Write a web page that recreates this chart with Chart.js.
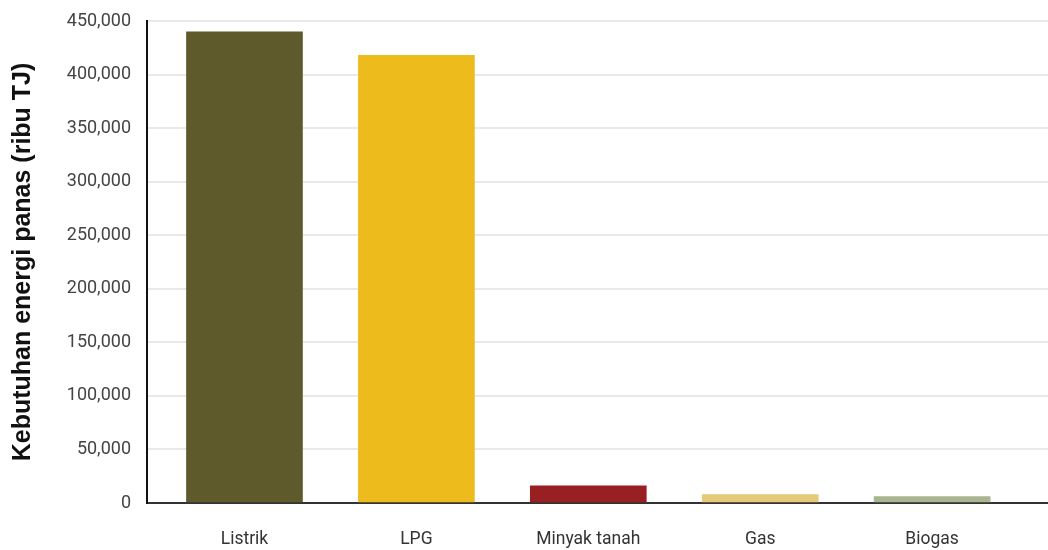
<!DOCTYPE html>
<html>
<head>
<meta charset="utf-8">
<script src="https://cdn.jsdelivr.net/npm/chart.js@4.4.0/dist/chart.umd.min.js"></script>
<style>
  html, body { margin: 0; padding: 0; background: #fff; }
  #wrap { width: 1048px; height: 550px; }
</style>
</head>
<body>
<div id="wrap"><canvas id="chart"></canvas></div>
<script>
const categories = ['Listrik', 'LPG', 'Minyak tanah', 'Gas', 'Biogas'];
const values = [440000, 418000, 16000, 7800, 5900];
const barColors = ['#5e5a2c', '#eebb1d', '#992022', '#e4c978', '#a8b590'];
const yTicks = [0, 50000, 100000, 150000, 200000, 250000, 300000, 350000, 400000, 450000];
const yTitle = 'Kebutuhan energi panas (ribu TJ)';

const ctx = document.getElementById('chart').getContext('2d');

new Chart(ctx, {
    type: 'bar',
    data: {
        datasets: [{
            data: values.map((v, i) => ({ x: i, y: v })),
            backgroundColor: barColors,
            borderWidth: 0,
            barThickness: 116
        }]
    },
    options: {
        responsive: true,
        maintainAspectRatio: false,
        animation: false,
        layout: { padding: { top: 0, right: 0, left: 8, bottom: 0 } },
        plugins: {
            legend: { display: false },
            tooltip: { enabled: false }
        },
        scales: {
            x: {
                type: 'linear',
                offset: false,
                min: -0.567,
                max: 4.674,
                afterBuildTicks: axis => {
                    axis.ticks = categories.map((_, i) => ({ value: i }));
                },
                afterFit: scale => {
                    scale.height = 47;
                    scale.paddingTop = 0;
                },
                ticks: {
                    callback: v => categories[v] ?? '',
                    color: '#333',
                    font: { family: 'Roboto', size: 17.5 },
                    padding: 26,
                    maxRotation: 0
                },
                grid: { display: false, drawTicks: false },
                border: { display: true, color: '#333', width: 2 }
            },
            y: {
                min: 0,
                max: 450000,
                afterBuildTicks: axis => {
                    axis.ticks = yTicks.map(v => ({ value: v }));
                },
                afterFit: scale => {
                    scale.width = 139;
                    scale.paddingTop = 21;
                },
                ticks: {
                    callback: v => v.toLocaleString('en-US'),
                    color: '#444',
                    font: { family: 'Roboto', size: 18 },
                    padding: 16
                },
                title: {
                    display: true,
                    text: yTitle,
                    color: '#111',
                    font: { family: 'Liberation Sans', size: 25, weight: 'bold' },
                    padding: { top: 0, bottom: 4 }
                },
                grid: { color: '#e9e9e9', lineWidth: 2, drawTicks: false },
                border: { display: true, color: '#111', width: 2 }
            }
        }
    }
});
</script>
</body>
</html>
